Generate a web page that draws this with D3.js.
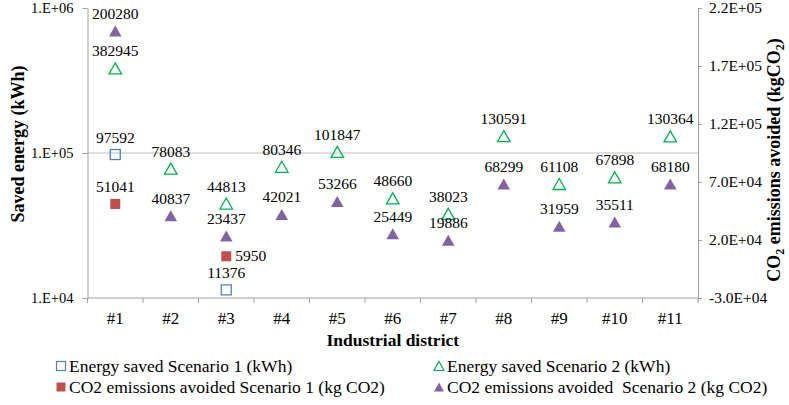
<!DOCTYPE html>
<html><head><meta charset="utf-8">
<script src="https://cdn.jsdelivr.net/npm/d3@7"></script>
<style>
html,body{margin:0;padding:0;background:#fff;}
svg{display:block;font-family:"Liberation Serif","Times New Roman",serif;}
text{fill:#000;}
</style></head>
<body><svg id="c" width="789" height="405"></svg>
<script>
const categories = ["#1","#2","#3","#4","#5","#6","#7","#8","#9","#10","#11"];
const energyS1 = [97592, null, 11376, null, null, null, null, null, null, null, null];
const energyS2 = [382945, 78083, 44813, 80346, 101847, 48660, 38023, 130591, 61108, 67898, 130364];
const co2S1 = [51041, null, 5950, null, null, null, null, null, null, null, null];
const co2S2 = [200280, 40837, 23437, 42021, 53266, 25449, 19886, 68299, 31959, 35511, 68180];
const leftTicks = [1e4, 1e5, 1e6];
const rightTicks = [-3e4, 2e4, 7e4, 1.2e5, 1.7e5, 2.2e5];
const legendLabels = ["Energy saved Scenario 1 (kWh)", "Energy saved Scenario 2 (kWh)",
  "CO2 emissions avoided Scenario 1 (kg CO2)", "CO2 emissions avoided  Scenario 2 (kg CO2)"];

const W = 789, H = 405;
const L = 87.5, R = 698, T = 8, B = 298;
const svg = d3.select("#c");
const axisCol = "#A0A0A0", gridCol = "#BFBFBF";
const cBlue = "#4F81BD", cGreen = "#00B050", cRed = "#C0504D", cPurple = "#8064A2";
const serif = "Liberation Serif, Times New Roman, serif";

const x = d3.scaleBand().domain(categories).range([L, R]).padding(0);
const yL = d3.scaleLog().domain([1e4, 1e6]).range([B, T]);
const yR = d3.scaleLinear().domain([-3e4, 2.2e5]).range([B, T]);

const leftFmt = d => "1.E+" + String(Math.round(Math.log10(d))).padStart(2, "0");
const rightFmt = d => d3.format(".1e")(d).replace("\u2212", "-")
  .replace(/e([+-])(\d+)/, (m, s, n) => "E" + s + n.padStart(2, "0"));

// gridline at 1E+05
svg.append("g").selectAll("line").data(leftTicks.filter(v => v > 1e4 && v < 1e6)).join("line")
  .attr("x1", L).attr("x2", R).attr("y1", d => yL(d)).attr("y2", d => yL(d))
  .attr("stroke", gridCol).attr("stroke-width", 1);

// left axis
const gL = svg.append("g").attr("transform", `translate(${L},0)`)
  .call(d3.axisLeft(yL).tickValues(leftTicks).tickFormat(leftFmt).tickSize(5).tickSizeOuter(0).tickPadding(9));
gL.attr("font-family", serif);
gL.select(".domain").attr("stroke", axisCol);
gL.selectAll(".tick line").attr("stroke", axisCol);
gL.selectAll(".tick text").attr("font-size", "14.5px");

// right axis
const gR = svg.append("g").attr("transform", `translate(${R},0)`)
  .call(d3.axisRight(yR).tickValues(rightTicks).tickFormat(rightFmt).tickSize(4).tickSizeOuter(0).tickPadding(7));
gR.attr("font-family", serif);
gR.select(".domain").attr("stroke", axisCol);
gR.selectAll(".tick line").attr("stroke", axisCol);
gR.selectAll(".tick text").attr("font-size", "15.5px");

// bottom axis
const gB = svg.append("g").attr("transform", `translate(0,${B})`);
gB.append("line").attr("x1", L).attr("x2", R).attr("stroke", axisCol);
const bounds = categories.map(c => x(c)).concat([x.range()[1]]);
gB.selectAll("line.tk").data(bounds).join("line").attr("class", "tk")
  .attr("x1", d => d).attr("x2", d => d).attr("y1", 0).attr("y2", 5).attr("stroke", axisCol);
gB.selectAll("text").data(categories).join("text")
  .attr("x", d => x(d) + x.bandwidth() / 2).attr("y", 26)
  .attr("text-anchor", "middle").attr("font-size", "17px").text(d => d);

// axis titles
svg.append("text").attr("x", (L + R) / 2).attr("y", 346).attr("text-anchor", "middle")
  .attr("font-size", "17.5px").attr("font-weight", "bold").text("Industrial district");
svg.append("text").attr("transform", `translate(24,${(T + B) / 2 - 9}) rotate(-90)`)
  .attr("text-anchor", "middle").attr("font-size", "18px").attr("font-weight", "bold")
  .text("Saved energy (kWh)");
const rt = svg.append("text").attr("transform", `translate(780,${(T + B) / 2 + 7}) rotate(-90)`)
  .attr("text-anchor", "middle").attr("font-size", "18px").attr("font-weight", "bold");
rt.append("tspan").text("CO");
rt.append("tspan").attr("font-size", "12px").attr("dy", 4).text("2");
rt.append("tspan").attr("dy", -4).text(" emissions avoided (kgCO");
rt.append("tspan").attr("font-size", "12px").attr("dy", 4).text("2");
rt.append("tspan").attr("dy", -4).text(")");

// markers
const triPath = "M0,-5.5L6.3,5.5L-6.3,5.5Z";
const cx = (i) => x(categories[i]) + x.bandwidth() / 2;
function series(vals, scale) {
  return vals.map((v, i) => ({ v, i, px: cx(i), py: v == null ? null : scale(v) })).filter(d => d.v != null);
}
const sE1 = series(energyS1, yL), sE2 = series(energyS2, yL), sC1 = series(co2S1, yR), sC2 = series(co2S2, yR);

svg.append("g").selectAll("rect").data(sE1).join("rect")
  .attr("x", d => d.px - 5).attr("y", d => d.py - 5).attr("width", 10).attr("height", 10)
  .attr("fill", "none").attr("stroke", cBlue).attr("stroke-width", 1.3);
svg.append("g").selectAll("path").data(sE2).join("path")
  .attr("d", triPath).attr("transform", d => `translate(${d.px},${d.py})`)
  .attr("fill", "none").attr("stroke", cGreen).attr("stroke-width", 1.3);
svg.append("g").selectAll("rect").data(sC1).join("rect")
  .attr("x", d => d.px - 5).attr("y", d => d.py - 5).attr("width", 10).attr("height", 10)
  .attr("fill", cRed);
svg.append("g").selectAll("path").data(sC2).join("path")
  .attr("d", triPath).attr("transform", d => `translate(${d.px},${d.py})`)
  .attr("fill", cPurple);

// data labels
function labels(data, rightOf) {
  svg.append("g").selectAll("text").data(data).join("text")
    .attr("x", d => rightOf && rightOf(d) ? d.px + 9 : d.px)
    .attr("y", d => rightOf && rightOf(d) ? d.py + 5 : d.py - 12)
    .attr("text-anchor", d => rightOf && rightOf(d) ? "start" : "middle")
    .attr("font-size", "15.5px").text(d => d.v);
}
labels(sE1);
labels(sE2);
labels(sC1, d => d.i === 2);
labels(sC2);

// legend
const leg = [
  { col: 0, row: 0, type: "sq-open", color: cBlue, label: legendLabels[0] },
  { col: 1, row: 0, type: "tri-open", color: cGreen, label: legendLabels[1] },
  { col: 0, row: 1, type: "sq", color: cRed, label: legendLabels[2] },
  { col: 1, row: 1, type: "tri", color: cPurple, label: legendLabels[3] }
];
const colX = [61, 439], rowY = [366, 387];
const lg = svg.append("g").selectAll("g").data(leg).join("g")
  .attr("transform", d => `translate(${colX[d.col]},${rowY[d.row]})`);
lg.filter(d => d.type.startsWith("sq")).append("rect")
  .attr("x", -4.5).attr("y", -4.5).attr("width", 9).attr("height", 9)
  .attr("fill", d => d.type === "sq" ? d.color : "none")
  .attr("stroke", d => d.type === "sq" ? "none" : d.color).attr("stroke-width", 1.2);
lg.filter(d => d.type.startsWith("tri")).append("path")
  .attr("d", "M0,-4.5L5,4.5L-5,4.5Z")
  .attr("fill", d => d.type === "tri" ? d.color : "none")
  .attr("stroke", d => d.type === "tri" ? "none" : d.color).attr("stroke-width", 1.2);
lg.append("text").attr("x", 8).attr("y", 6).attr("font-size", "17.5px")
  .style("white-space", "pre").text(d => d.label);
</script></body></html>
